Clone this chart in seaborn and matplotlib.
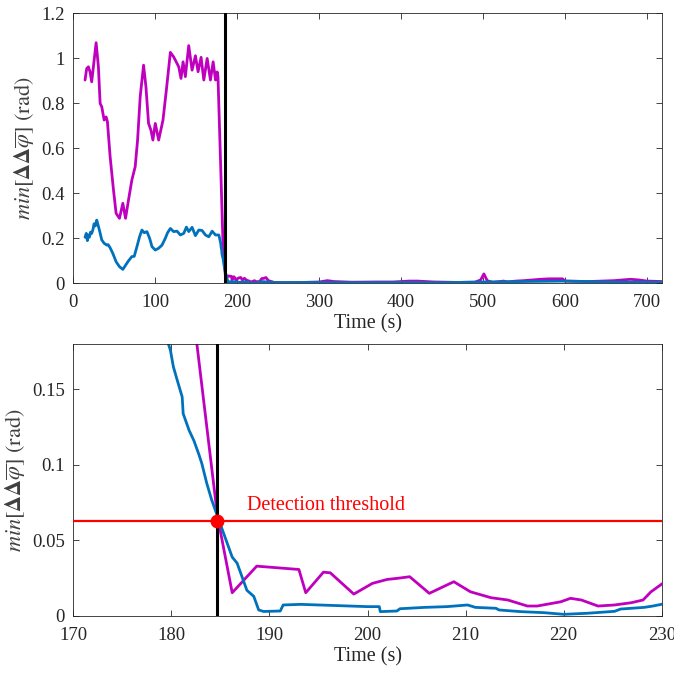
import numpy as np
import pandas as pd
import matplotlib
matplotlib.use("Agg")
import matplotlib.pyplot as plt
from matplotlib.ticker import FuncFormatter
import seaborn as sns

# ---- data ----
mag_t = [14.3, 16.3, 18.4, 20.4, 22.4, 24.5, 27.8, 30.6, 32.7, 34.7, 37.6, 40.0, 41.6, 44.9, 49.0,
         52.2, 56.3, 60.4, 63.7, 67.3, 71.4, 75.5, 78.4, 81.6, 85.7, 88.6, 91.8, 94.7, 97.1, 100.0,
         104.1, 109.4, 113.5, 118.4, 122.4, 128.6, 131.4, 133.9, 136.7, 140.8, 144.9, 149.0, 152.2,
         155.9, 159.2, 163.3, 167.3, 170.6, 173.5, 175.5, 176.5, 182.6, 184.7, 186.2, 188.7, 193.0,
         193.7, 195.5, 196.2, 198.6, 200.5, 202.0, 203.0, 204.3, 206.3, 208.8, 210.5, 212.6, 214.3,
         216.3, 217.3, 219.7, 220.7, 221.8, 223.5, 225.2, 226.9, 228.1, 228.9, 230.1, 232.5, 235.0,
         238.0, 245.0, 260.0, 280.0, 300.0, 310.0, 318.0, 340.0, 370.0, 390.0, 410.0, 420.0, 440.0,
         470.0, 490.0, 497.0, 501.0, 505.0, 512.0, 525.0, 530.0, 540.0, 550.0, 570.0, 580.0, 597.0,
         600.0, 630.0, 660.0, 680.0, 690.0, 700.0, 718.0]
mag_v = [0.904, 0.955, 0.963, 0.94, 0.896, 0.963, 1.07, 0.963, 0.80, 0.785, 0.726, 0.74, 0.719, 0.563,
         0.415, 0.311, 0.289, 0.356, 0.289, 0.37, 0.459, 0.519, 0.637, 0.83, 0.97, 0.874, 0.711, 0.681,
         0.637, 0.711, 0.637, 0.726, 0.859, 1.027, 1.007, 0.963, 0.911, 0.985, 0.919, 1.057, 0.948,
         1.012, 0.941, 1.005, 0.904, 1.0, 0.904, 0.985, 0.904, 0.94, 0.92, 0.18, 0.066, 0.0154, 0.033,
         0.0308, 0.0154, 0.029, 0.0286, 0.0145, 0.0216, 0.0242, 0.0249, 0.026, 0.015, 0.0227, 0.016,
         0.0121, 0.0106, 0.0066, 0.0066, 0.0094, 0.0117, 0.0106, 0.0066, 0.0073, 0.0088, 0.0106, 0.016,
         0.0216, 0.022, 0.026, 0.012, 0.004, 0.003, 0.004, 0.006, 0.012, 0.008, 0.005, 0.006, 0.006,
         0.010, 0.010, 0.006, 0.004, 0.005, 0.015, 0.042, 0.012, 0.004, 0.010, 0.006, 0.010, 0.012,
         0.018, 0.020, 0.020, 0.010, 0.008, 0.012, 0.018, 0.015, 0.010, 0.008]

blu_t = [14.3, 15.8, 17.1, 18.2, 19.6, 21.0, 22.4, 24.0, 25.3, 26.8, 28.6, 30.0, 31.8, 34.7, 37.6,
         40.8, 42.5, 44.9, 48.2, 52.2, 56.3, 60.4, 63.3, 67.3, 71.4, 74.3, 77.6, 80.8, 83.7, 86.5,
         89.8, 93.1, 96.0, 100.0, 104.1, 108.2, 112.2, 115.0, 118.4, 122.4, 126.5, 130.6, 134.7,
         138.0, 140.8, 144.9, 149.0, 153.1, 157.1, 161.2, 165.3, 169.4, 173.5, 177.6, 179.7, 179.9,
         180.2, 180.6, 181.1, 181.2, 181.8, 182.3, 182.8, 183.1, 183.6, 184.1, 184.7, 185.2, 185.7,
         186.2, 186.7, 187.2, 187.7, 188.4, 188.9, 189.4, 191.1, 191.4, 193.2, 200.0, 201.2, 201.3,
         203.0, 203.3, 205.8, 208.1, 210.2, 211.0, 213.1, 213.4, 215.6, 218.0, 220.0, 222.4, 225.2,
         225.8, 228.2, 229.1, 230.1, 250.0, 300.0, 350.0, 400.0, 450.0, 500.0, 550.0, 600.0, 650.0,
         700.0, 718.0]
blu_v = [0.205, 0.222, 0.190, 0.215, 0.205, 0.228, 0.222, 0.240, 0.265, 0.255, 0.281, 0.262, 0.237,
         0.193, 0.178, 0.17, 0.172, 0.158, 0.133, 0.096, 0.074, 0.062, 0.078, 0.100, 0.119, 0.120, 0.163,
         0.207, 0.237, 0.225, 0.230, 0.200, 0.163, 0.148, 0.156, 0.17, 0.20, 0.225, 0.244, 0.230, 0.232,
         0.215, 0.222, 0.250, 0.230, 0.249, 0.212, 0.237, 0.235, 0.215, 0.207, 0.232, 0.215, 0.215,
         0.180, 0.176, 0.165, 0.156, 0.145, 0.134, 0.123, 0.116, 0.107, 0.101, 0.088, 0.077, 0.066,
         0.057, 0.048, 0.039, 0.035, 0.026, 0.017, 0.013, 0.004, 0.003, 0.0033, 0.0073, 0.0077, 0.0062,
         0.0062, 0.0029, 0.0033, 0.0048, 0.0057, 0.0062, 0.0073, 0.0057, 0.0051, 0.004, 0.0029, 0.0022,
         0.0011, 0.0018, 0.0031, 0.0046, 0.0057, 0.0066, 0.0079, 0.003, 0.004, 0.003, 0.004, 0.003,
         0.006, 0.008, 0.010, 0.006, 0.005, 0.005]

detect_time = 184.7
threshold = 0.063
top_xticks = [0, 100, 200, 300, 400, 500, 600, 700]
top_yticks = [0, 0.2, 0.4, 0.6, 0.8, 1.0, 1.2]
bot_xticks = [170, 180, 190, 200, 210, 220, 230]
bot_yticks = [0, 0.05, 0.1, 0.15]

# ---- style ----
sns.set_style("ticks")
plt.rcParams['font.family'] = ['Liberation Serif', 'DejaVu Serif']
plt.rcParams['mathtext.fontset'] = 'stix'
plt.rcParams['xtick.direction'] = 'in'
plt.rcParams['ytick.direction'] = 'in'

MAG = '#BF00BF'
BLU = '#0072BD'
AXC = '#262626'

mag_df = pd.DataFrame({'t': mag_t, 'v': mag_v})
blu_df = pd.DataFrame({'t': blu_t, 'v': blu_v})

fig = plt.figure(figsize=(6.74, 6.73), dpi=100)
ax1 = fig.add_axes([0.1088, 0.579, 0.873, 0.401])
ax2 = fig.add_axes([0.1088, 0.0847, 0.873, 0.404])

ylab = r'$min[\mathbf{\Delta\Delta}\overline{\varphi}]\ \mathrm{(rad)}$'
fmt = FuncFormatter(lambda v, p: '%g' % round(v, 6))

for ax in (ax1, ax2):
    sns.lineplot(data=mag_df, x='t', y='v', ax=ax, color=MAG, lw=2, estimator=None, sort=False)
    sns.lineplot(data=blu_df, x='t', y='v', ax=ax, color=BLU, lw=2, estimator=None, sort=False)
    ax.axvline(detect_time, color='black', lw=2.2, zorder=5)
    for s in ax.spines.values():
        s.set_visible(True)
        s.set_color(AXC)
        s.set_linewidth(0.6)
    ax.tick_params(axis='both', which='both', top=True, right=True, direction='in',
                   length=4, width=0.6, color=AXC, labelsize=13.5, labelcolor=AXC)
    ax.tick_params(axis='x', pad=8)
    ax.tick_params(axis='y', pad=6)
    ax.set_xlabel('Time (s)', fontsize=14.5, color=AXC, labelpad=2)
    ax.set_ylabel(ylab, fontsize=16, color='#404040', labelpad=3)
    ax.xaxis.set_major_formatter(fmt)
    ax.yaxis.set_major_formatter(fmt)

ax1.set_xlim(0, 718)
ax1.set_ylim(0, 1.2)
ax1.set_xticks(top_xticks)
ax1.set_yticks(top_yticks)

ax2.set_xlim(170, 230)
ax2.set_ylim(0, 0.18)
ax2.set_xticks(bot_xticks)
ax2.set_yticks(bot_yticks)
ax2.axhline(threshold, color='red', lw=1.6, zorder=6)
ax2.plot([detect_time], [threshold], 'o', color='red', ms=9, zorder=7)
ax2.text(187.7, threshold + 0.0038, 'Detection threshold', color='red', fontsize=14.5,
         ha='left', va='bottom')

fig.savefig('out.png', dpi=100)
